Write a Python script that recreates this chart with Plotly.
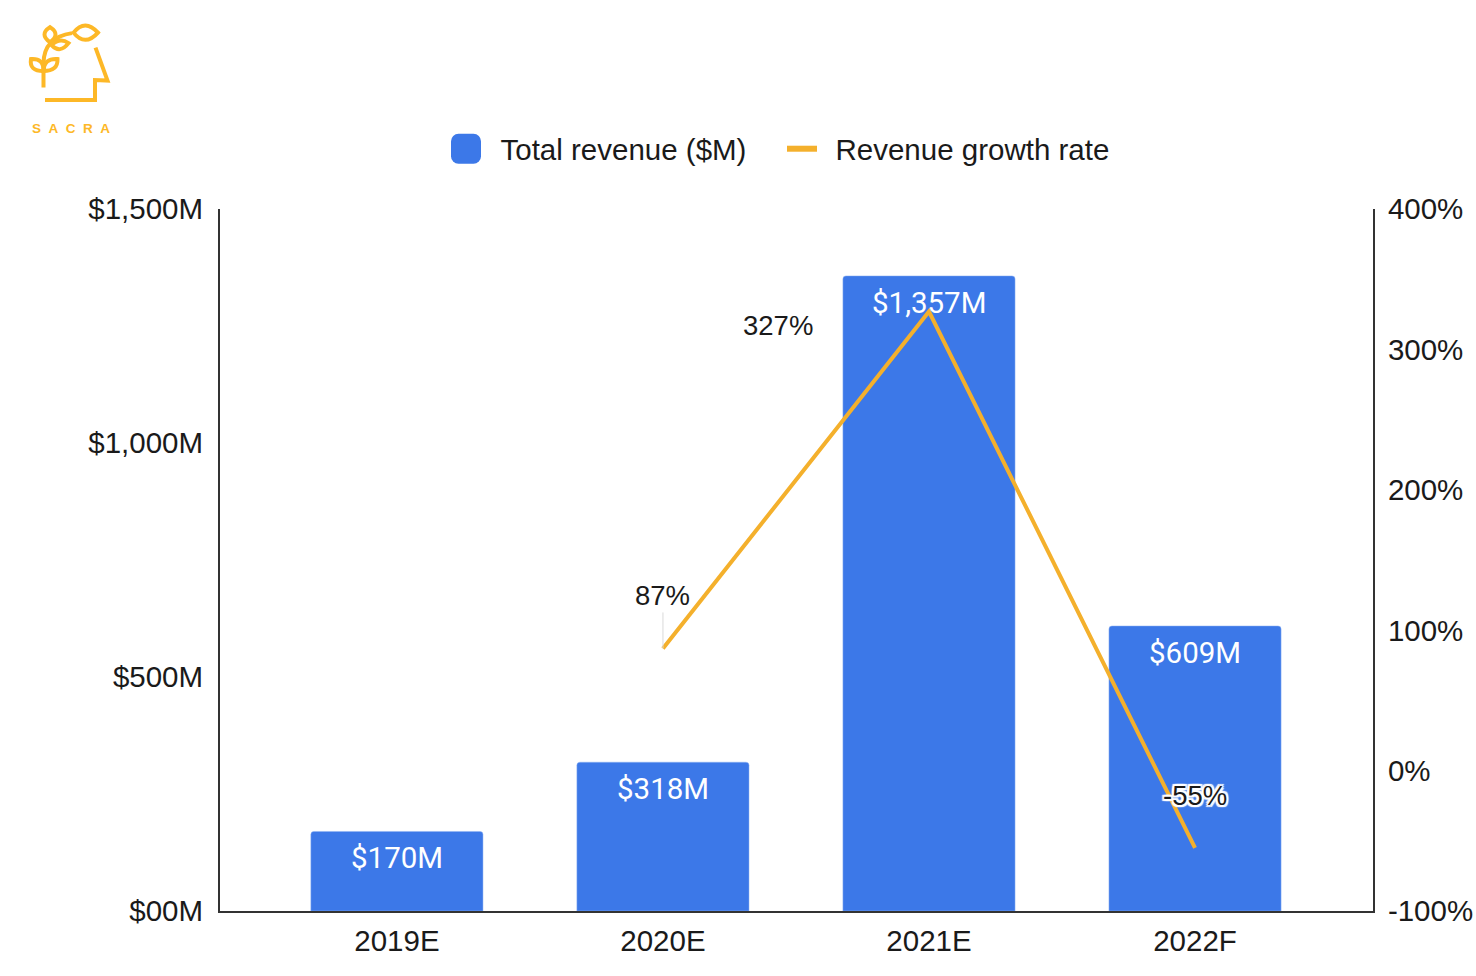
import plotly.graph_objects as go

categories = ["2019E", "2020E", "2021E", "2022F"]
revenue = [170, 318, 1357, 609]
revenue_labels = ["$170M", "$318M", "$1,357M", "$609M"]
growth = [None, 87, 327, -55]
growth_labels = [None, "87%", "327%", "-55%"]
left_ticks = [0, 500, 1000, 1500]
left_tick_labels = ["$00M", "$500M", "$1,000M", "$1,500M"]
right_ticks = [-100, 0, 100, 200, 300, 400]
right_tick_labels = ["-100%", "0%", "100%", "200%", "300%", "400%"]

W, H = 1476, 976
L, R, T, B = 220, 1373, 209, 911.5
BLUE, ORANGE, LOGO = "#3C78E8", "#F4B02C", "#FDB827"
AX = "#333333"
SANS = "Liberation Sans, Arial, sans-serif"
ROBOTO = "Roboto, Arial, sans-serif"
FS = 29.5
LABEL_FS = 27.5
NB = "\u00a0\u00a0"


def px(x, y):
    return f"{(x - L) / (R - L):.5f},{(B - y) / (B - T):.5f}"


def path(*segs):
    out = ""
    for s in segs:
        cmd, pts = s[0], s[1:]
        out += cmd + " " + " ".join(px(*p) for p in pts) + " "
    return out.strip()


logo_paths = [
    path(("M", (95.5, 47.5)), ("L", (107.5, 80.5)), ("L", (95, 80)), ("L", (95, 100)), ("L", (45, 100))),
    path(("M", (43.5, 87.5)), ("L", (43.5, 63)), ("Q", (44, 37), (72, 33))),
    path(("M", (73.5, 32.5)), ("Q", (85, 18), (98, 32.5)), ("Q", (85, 47), (73.5, 32.5)), ("Z",)),
    path(("M", (50, 27)), ("Q", (39, 34), (50, 42)), ("Q", (61, 34), (50, 27)), ("Z",)),
    path(("M", (51.5, 45)), ("Q", (60, 37), (68.5, 43)), ("Q", (60, 54), (51.5, 45)), ("Z",)),
    path(("M", (43.5, 71)), ("Q", (44, 58), (31, 59)), ("Q", (29, 71), (43.5, 71)), ("Z",)),
    path(("M", (43.5, 71)), ("Q", (44, 58), (57.5, 59)), ("Q", (58, 71), (43.5, 71)), ("Z",)),
]

fig = go.Figure()
fig.add_bar(
    x=categories, y=revenue, name="Total revenue ($M)", yaxis="y",
    marker=dict(color=BLUE, line=dict(color="#8FB2F2", width=0.5)),
    width=0.647,
)
fig.add_scatter(
    x=categories, y=growth, name="Revenue growth rate", yaxis="y2", mode="lines",
    line=dict(color=ORANGE, width=4), connectgaps=False,
)

annotations = []
for c, v, t in zip(categories, revenue, revenue_labels):
    annotations.append(dict(
        x=c, y=v, xref="x", yref="y", text=t, showarrow=False, yshift=-27,
        yanchor="middle", xanchor="center", font=dict(family=ROBOTO, size=FS, color="white"),
    ))

label_font = dict(family=SANS, size=LABEL_FS, color="#1a1a1a")
annotations.append(dict(
    x=categories[1], y=growth[1], xref="x", yref="y2", text=growth_labels[1],
    showarrow=True, arrowhead=0, arrowwidth=1, arrowcolor="#D9D9D9",
    ax=0, ay=-53, font=label_font, standoff=0,
))
annotations.append(dict(
    x=categories[2], y=growth[2], xref="x", yref="y2", text=growth_labels[2],
    showarrow=False, xshift=-151, yshift=-14, xanchor="center", font=label_font,
))
halo = ", ".join(f"{dx}px {dy}px 1px white" for dx in (-2, 0, 2) for dy in (-2, 0, 2) if dx or dy)
annotations.append(dict(
    x=categories[3], y=growth[3], xref="x", yref="y2", text=growth_labels[3],
    showarrow=False, yshift=52, xanchor="center",
    font=dict(family=SANS, size=LABEL_FS, color="#1a1a1a", shadow=halo),
))
annotations.append(dict(
    xref="paper", yref="paper", x=(70.5 - L) / (R - L), y=(B - 128.5) / (B - T),
    text=NB.join("SACRA"), showarrow=False, xanchor="center", yanchor="middle",
    font=dict(family=SANS, size=13.5, color=LOGO, weight="bold"),
))

fig.update_layout(
    width=W, height=H,
    margin=dict(l=L, r=W - R, t=T, b=H - B, pad=0),
    paper_bgcolor="white", plot_bgcolor="white",
    font=dict(family=SANS, size=FS, color="#1a1a1a"),
    xaxis=dict(
        type="category", categoryorder="array", categoryarray=categories,
        range=[-0.665, 3.669], showgrid=False, zeroline=False, automargin=False,
        showline=True, linecolor=AX, linewidth=2,
        ticks="outside", ticklen=3, tickcolor="rgba(0,0,0,0)",
    ),
    yaxis=dict(
        range=[0, 1500], tickvals=left_ticks, ticktext=left_tick_labels, automargin=False,
        showgrid=False, zeroline=False, showline=True, linecolor=AX, linewidth=2,
        ticks="outside", ticklen=9, tickcolor="rgba(0,0,0,0)",
    ),
    yaxis2=dict(
        range=[-100, 400], tickvals=right_ticks, ticktext=right_tick_labels, automargin=False,
        overlaying="y", side="right", showgrid=False, zeroline=False,
        showline=True, linecolor=AX, linewidth=2,
        ticks="outside", ticklen=7, tickcolor="rgba(0,0,0,0)",
    ),
    legend=dict(
        orientation="h", x=(431.5 - L) / (R - L), xanchor="left",
        y=(B - 149) / (B - T), yanchor="middle",
        font=dict(family=SANS, size=FS, color="#1a1a1a"),
        bgcolor="rgba(0,0,0,0)", itemwidth=59, entrywidth=261, entrywidthmode="pixels",
    ),
    annotations=annotations,
    shapes=[dict(type="path", xref="paper", yref="paper", path=p,
                 line=dict(color=LOGO, width=4), layer="above") for p in logo_paths],
    barcornerradius=3,
)

post = """
document.body.style.margin='0';
var gd=document.querySelector('.js-plotly-plot');
function fixLegend(){
  gd.querySelectorAll('.legend, .legend .scrollbox').forEach(function(g){
    g.removeAttribute('clip-path');
    g.style.clipPath='none';
    g.style.overflow='visible';
  });
  gd.querySelectorAll('.legendpoints path.legendbar, .legend .legendundefined').forEach(function(p){
    var tr=p.getAttribute('transform')||'';
    p.setAttribute('transform',tr.replace(/ ?scale\\([^)]*\\)/,'')+' scale(2.5)');
    p.style.strokeWidth='0';
  });
  gd.querySelectorAll('path.js-line').forEach(function(p){
    if(p.closest('.legendlines')){
      p.setAttribute('d','M0,0h30');
      p.setAttribute('transform','translate(20.5,0)');
      p.style.strokeWidth='6px';
    }
  });
}
fixLegend();
gd.on('plotly_afterplot',fixLegend);
[50,200,600].forEach(function(t){setTimeout(fixLegend,t);});
"""
fig.write_html("out.html", post_script=post, config={"displayModeBar": False})
